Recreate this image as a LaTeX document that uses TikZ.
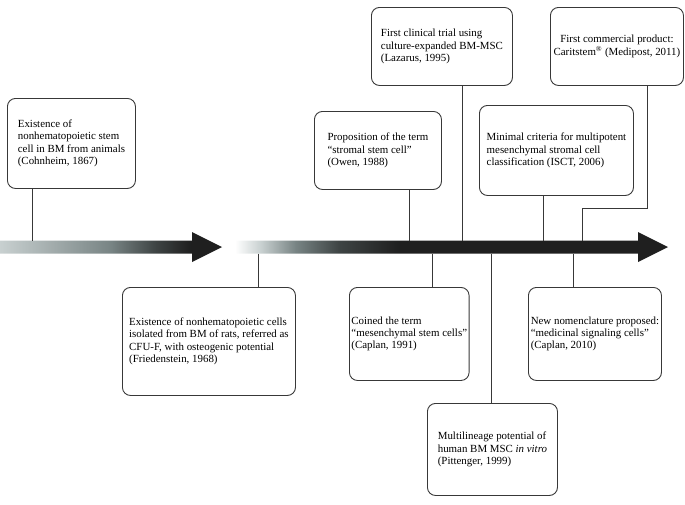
\documentclass[tikz,border=0pt]{standalone}
\usepackage{fontspec}
\setmainfont{Liberation Serif}
\definecolor{mylight}{RGB}{200,208,208}
\definecolor{mymid}{RGB}{120,132,132}
\definecolor{mydeep}{RGB}{62,68,68}
\colorlet{mydark}{black!88}
\colorlet{myline}{black!78}
\pgfdeclarehorizontalshading{ArrowOne}{100bp}{color(0bp)=(mylight); color(25bp)=(mylight); color(50bp)=(mymid); color(60bp)=(mydeep); color(68bp)=(mydark); color(100bp)=(mydark)}
\pgfdeclarehorizontalshading{ArrowTwo}{100bp}{color(0bp)=(white); color(25bp)=(white); color(28bp)=(mylight); color(32bp)=(mymid); color(37bp)=(mydeep); color(44bp)=(mydark); color(100bp)=(mydark)}

\begin{document}
\begin{tikzpicture}[x=1pt,y=-1pt]
\tikzset{BoxStyle/.style ={draw=myline, line width=0.9pt, rounded corners=8pt, anchor=north west, align=left, inner sep=2pt, font=\fontsize{10.9}{12.3}\selectfont}}
\tikzset{LinkStyle/.style ={draw=myline, line width=0.8pt}}
\useasboundingbox (0,0) rectangle (685,504);
\shade[shading=ArrowOne] (0,240.5) -- (192,240.5) -- (192,232) -- (222,247) -- (192,262) -- (192,253.5) -- (0,253.5) -- cycle;
\shade[shading=ArrowTwo] (235,240.5) -- (638,240.5) -- (638,232) -- (668,247) -- (638,262) -- (638,253.5) -- (235,253.5) -- cycle;
\coordinate (Y1867) at (32,240.5);
\coordinate (Y1968) at (258,253.5);
\coordinate (Y1988) at (409,240.5);
\coordinate (Y1991) at (432,253.5);
\coordinate (Y1995) at (462,240.5);
\coordinate (Y1999) at (491,253.5);
\coordinate (Y2006) at (543,240.5);
\coordinate (Y2010) at (573,253.5);
\coordinate (Y2011) at (582,240.5);
\coordinate (B2011) at (647,208.5);
\node[BoxStyle, minimum width=128pt, minimum height=90pt] (Cohnheim) at (7,98)
  {Existence of\\ nonhematopoietic stem\\ cell in BM from animals\\ (Cohnheim, 1867)};
\node[BoxStyle, minimum width=173pt, minimum height=108pt] (Friedenstein) at (122,287)
  {Existence of nonhematopoietic cells\\ isolated from BM of rats, referred as\\ CFU-F, with osteogenic potential\\ (Friedenstein, 1968)};
\node[BoxStyle, minimum width=127pt, minimum height=78pt] (Owen) at (314,111)
  {Proposition of the term\\ “stromal stem cell”\\ (Owen, 1988)};
\node[BoxStyle, minimum width=141pt, minimum height=78pt] (Lazarus) at (371,7)
  {First clinical trial using\\ culture-expanded BM-MSC\\ (Lazarus, 1995)};
\node[BoxStyle, minimum width=133pt, minimum height=78pt, align=center] (Medipost) at (550,7)
  {First commercial product:\\ Caritstem\textsuperscript{\textregistered} (Medipost, 2011)};
\node[BoxStyle, minimum width=154pt, minimum height=90pt] (ISCT) at (479,105)
  {Minimal criteria for multipotent\\ mesenchymal stromal cell\\ classification (ISCT, 2006)};
\node[BoxStyle, minimum width=118pt, minimum height=93pt] (Caplan91) at (349,287)
  {Coined the term\\ “mesenchymal stem cells”\\ (Caplan, 1991)};
\node[BoxStyle, minimum width=133pt, minimum height=93pt] (Caplan10) at (528,287)
  {New nomenclature proposed:\\ “medicinal signaling cells”\\ (Caplan, 2010)};
\node[BoxStyle, minimum width=130pt, minimum height=92pt] (Pittenger) at (427,403)
  {Multilineage potential of\\ human BM MSC \textit{in vitro}\\ (Pittenger, 1999)};
\draw[LinkStyle] (Cohnheim.south -| Y1867) -- (Y1867);
\draw[LinkStyle] (Y1968) -- (Friedenstein.north -| Y1968);
\draw[LinkStyle] (Owen.south -| Y1988) -- (Y1988);
\draw[LinkStyle] (Y1991) -- (Caplan91.north -| Y1991);
\draw[LinkStyle] (Lazarus.south -| Y1995) -- (Y1995);
\draw[LinkStyle] (Y1999) -- (Pittenger.north -| Y1999);
\draw[LinkStyle] (ISCT.south -| Y2006) -- (Y2006);
\draw[LinkStyle] (Y2010) -- (Caplan10.north -| Y2010);
\draw[LinkStyle] (Medipost.south -| B2011) -- (B2011) -| (Y2011);
\end{tikzpicture}
\end{document}
